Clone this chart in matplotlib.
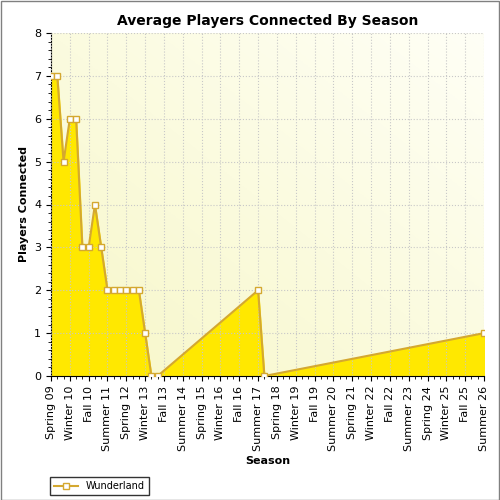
import numpy as np
import matplotlib.pyplot as plt
from matplotlib.colors import LinearSegmentedColormap

# season index: 0 = Spring 09, one step per season
idx = [0, 1, 2, 3, 4, 5, 6, 7, 8, 9, 10, 11, 12, 13, 14, 15, 16, 17, 33, 34, 69]
players = [7, 7, 5, 6, 6, 3, 3, 4, 3, 2, 2, 2, 2, 2, 2, 1, 0, 0, 2, 0, 1]

names = ['Spring', 'Summer', 'Fall', 'Winter']
labels = []
for i in range(0, 70, 3):
    yr = 9 + i // 4 + (1 if i % 4 == 3 else 0)
    labels.append('%s %02d' % (names[i % 4], yr))

fig = plt.figure(figsize=(5, 5), dpi=100)
ax = fig.add_axes([0.102, 0.248, 0.866, 0.686])

# pale yellow gradient background
cmap = LinearSegmentedColormap.from_list('bg', ['#f7f7c8', '#fffff6'])
grad = np.linspace(0, 1, 256).reshape(1, -1) + np.linspace(0, 1, 256).reshape(-1, 1)[::-1]
ax.imshow(grad, cmap=cmap, extent=[0, 69, 0, 8], aspect='auto', zorder=0)

ax.fill_between(idx, players, color='#ffe800', zorder=2)
ax.plot(idx, players, color='#d4a830', lw=1.5, marker='s', ms=5,
        mfc='white', mec='#d4a830', zorder=3, label='Wunderland')

ax.set_xlim(0, 69)
ax.set_ylim(0, 8)
ax.set_xticks(range(0, 70, 3))
ax.set_xticklabels(labels, rotation=90, fontsize=8)
ax.set_xticks(range(0, 70), minor=True)
ax.set_yticks(range(9))
ax.set_yticks(np.arange(0, 8, 0.2), minor=True)
ax.tick_params(labelsize=8)
ax.grid(True, color='#c8c8c8', ls=':', lw=0.8, zorder=1)
ax.set_axisbelow(False)
for s in ['top', 'right']:
    ax.spines[s].set_visible(False)

ax.set_title('Average Players Connected By Season', fontsize=10, fontweight='bold')
ax.set_xlabel('Season', fontsize=8, fontweight='bold')
ax.set_ylabel('Players Connected', fontsize=8, fontweight='bold')

fig.legend(loc='lower left', bbox_to_anchor=(0.09, 0.0), fontsize=7,
           fancybox=False, edgecolor='black', handlelength=2.5)

fig.patches.append(plt.Rectangle((0.001, 0.001), 0.997, 0.997, transform=fig.transFigure,
                                 fill=False, edgecolor='#808080', lw=1))

fig.savefig('out.png')
